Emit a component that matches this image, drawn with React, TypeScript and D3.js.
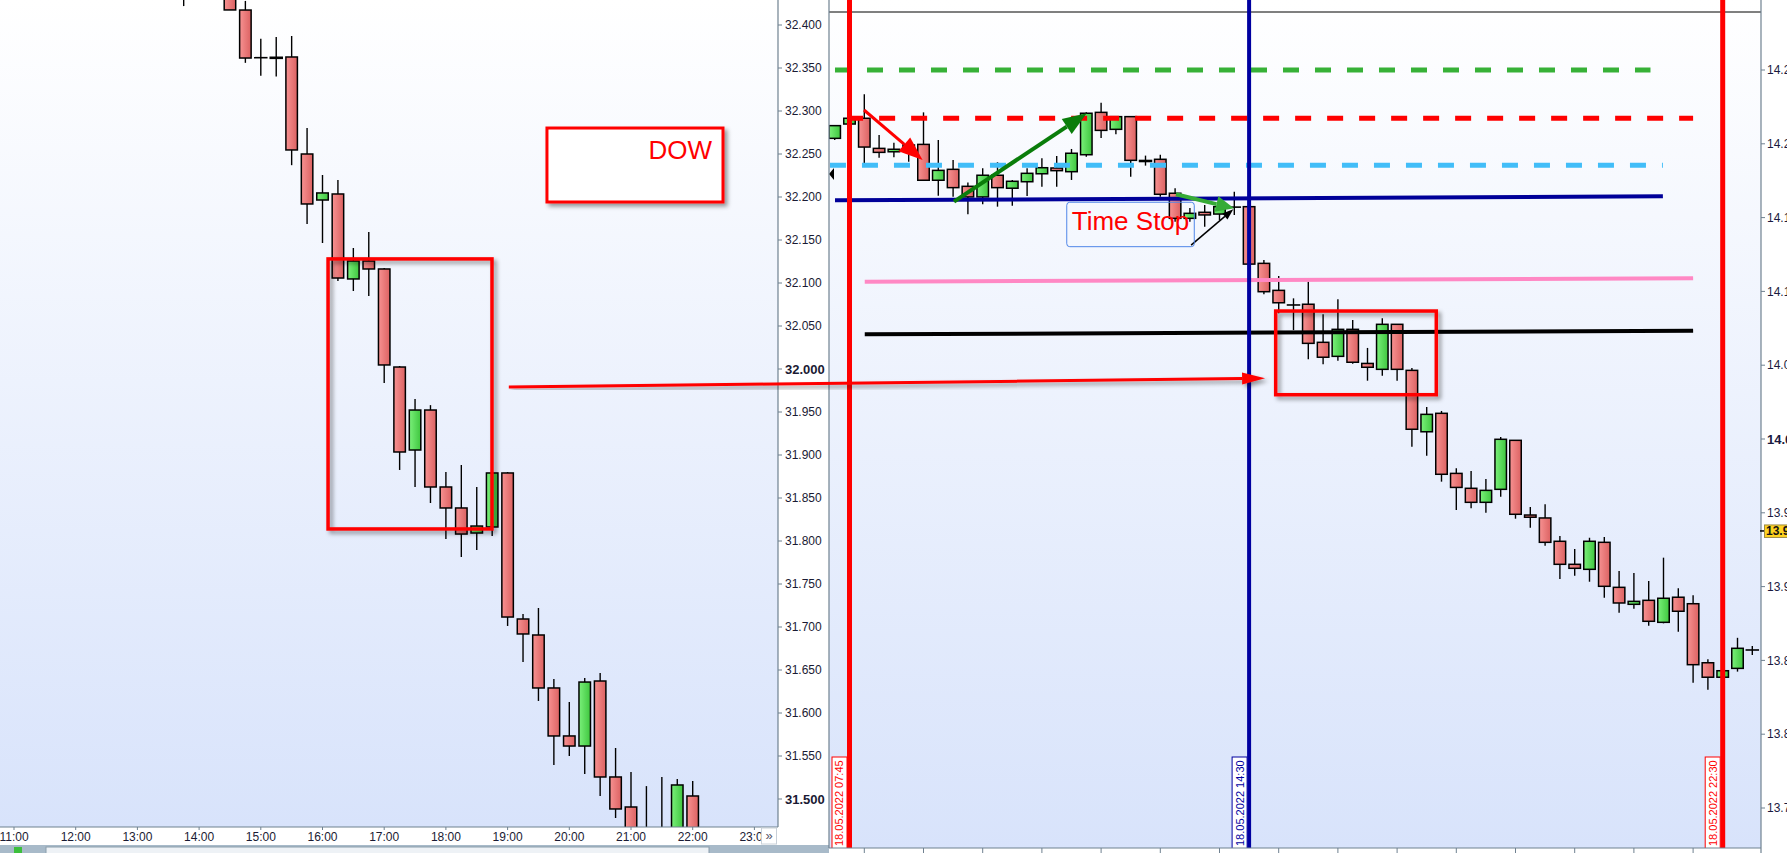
import * as d3 from "d3";

const W = 1787;
const H = 853;

// DOW 15-min candles: [hour, open, high, low, close]
const dowCandles: number[][] = [
  [13.75, 32.46, 32.47, 32.422, 32.45],
  [14.0, 32.48, 32.5, 32.44, 32.47],
  [14.25, 32.47, 32.49, 32.435, 32.45],
  [14.5, 32.45, 32.46, 32.4175, 32.4175],
  [14.75, 32.4174, 32.428, 32.356, 32.3616],
  [15.0, 32.362, 32.384, 32.341, 32.362],
  [15.25, 32.3625, 32.386, 32.34, 32.3612],
  [15.5, 32.3628, 32.3872, 32.237, 32.2547],
  [15.75, 32.25, 32.2802, 32.1686, 32.1919],
  [16.0, 32.1965, 32.2256, 32.1465, 32.2047],
  [16.25, 32.2035, 32.2198, 32.1023, 32.1058],
  [16.5, 32.1047, 32.1407, 32.0907, 32.1256],
  [16.75, 32.1256, 32.1593, 32.0849, 32.1163],
  [17.0, 32.1163, 32.1174, 31.9837, 32.0047],
  [17.25, 32.0023, 32.0035, 31.8826, 31.9035],
  [17.5, 31.9058, 31.9651, 31.8628, 31.9523],
  [17.75, 31.9523, 31.958, 31.8442, 31.8628],
  [18.0, 31.8628, 31.8802, 31.8023, 31.8384],
  [18.25, 31.8384, 31.8884, 31.7814, 31.8081],
  [18.5, 31.8093, 31.8628, 31.7895, 31.8174],
  [18.75, 31.8163, 31.88, 31.8058, 31.8791],
  [19.0, 31.8791, 31.8802, 31.7012, 31.7116],
  [19.25, 31.7093, 31.7151, 31.6593, 31.6919],
  [19.5, 31.6907, 31.7221, 31.614, 31.6291],
  [19.75, 31.6291, 31.6395, 31.5395, 31.5733],
  [20.0, 31.5733, 31.6128, 31.55, 31.5616],
  [20.25, 31.5616, 31.6407, 31.529, 31.636],
  [20.5, 31.6372, 31.6465, 31.5035, 31.5256],
  [20.75, 31.5256, 31.5593, 31.4779, 31.4884],
  [21.0, 31.4907, 31.5314, 31.42, 31.44],
  [21.25, 31.44, 31.515, 31.41, 31.43],
  [21.5, 31.43, 31.5256, 31.41, 31.44],
  [21.75, 31.44, 31.5233, 31.43, 31.5163],
  [22.0, 31.5035, 31.521, 31.44, 31.45],
];
const dowTicks = [32.4, 32.35, 32.3, 32.25, 32.2, 32.15, 32.1, 32.05, 32.0, 31.95, 31.9, 31.85, 31.8, 31.75, 31.7, 31.65, 31.6, 31.55, 31.5];
const dowBold = [32.0, 31.5];
const dowHours = [11, 12, 13, 14, 15, 16, 17, 18, 19, 20, 21, 22, 23];

// DAX 15-min candles: [hour, open, high, low, close]
const daxCandles: number[][] = [
  [7.5, 14.2037, 14.2126, 14.2025, 14.2123],
  [7.75, 14.2134, 14.218, 14.213, 14.2173],
  [8.0, 14.2173, 14.2335, 14.187, 14.1978],
  [8.25, 14.1969, 14.206, 14.1906, 14.1942],
  [8.5, 14.1946, 14.2007, 14.1909, 14.1963],
  [8.75, 14.1963, 14.2026, 14.1879, 14.1992],
  [9.0, 14.1996, 14.2213, 14.175, 14.1753],
  [9.25, 14.1753, 14.2026, 14.1648, 14.182],
  [9.5, 14.1827, 14.189, 14.1642, 14.1703],
  [9.75, 14.1712, 14.1737, 14.1522, 14.164],
  [10.0, 14.164, 14.1834, 14.159, 14.1787],
  [10.25, 14.1787, 14.1875, 14.1574, 14.1703],
  [10.5, 14.1699, 14.1755, 14.158, 14.1746],
  [10.75, 14.1743, 14.1834, 14.1646, 14.18],
  [11.0, 14.1797, 14.1902, 14.1709, 14.1838],
  [11.25, 14.1836, 14.1917, 14.1709, 14.1818],
  [11.5, 14.1811, 14.1965, 14.1755, 14.1936],
  [11.75, 14.1926, 14.2213, 14.1913, 14.2207],
  [12.0, 14.2213, 14.2278, 14.2039, 14.2091],
  [12.25, 14.2098, 14.2188, 14.2064, 14.2184],
  [12.5, 14.2184, 14.2188, 14.1777, 14.1888],
  [12.75, 14.1886, 14.192, 14.1852, 14.1881],
  [13.0, 14.1895, 14.1926, 14.1642, 14.1658],
  [13.25, 14.1665, 14.1699, 14.1472, 14.1495],
  [13.5, 14.1495, 14.1565, 14.1472, 14.1529],
  [13.75, 14.1536, 14.1585, 14.1438, 14.1518],
  [14.0, 14.1524, 14.1619, 14.1484, 14.1574],
  [14.25, 14.157, 14.1675, 14.1518, 14.1572],
  [14.5, 14.1574, 14.1578, 14.118, 14.1185],
  [14.75, 14.119, 14.1213, 14.098, 14.0998],
  [15.0, 14.1007, 14.1104, 14.0852, 14.0923],
  [15.25, 14.0908, 14.0953, 14.0738, 14.0908],
  [15.5, 14.0913, 14.1066, 14.054, 14.0648],
  [15.75, 14.0655, 14.0845, 14.0506, 14.0554],
  [16.0, 14.056, 14.0947, 14.053, 14.0743],
  [16.25, 14.0743, 14.0806, 14.051, 14.052],
  [16.5, 14.0512, 14.0617, 14.0395, 14.0486],
  [16.75, 14.0472, 14.0818, 14.0429, 14.0777],
  [17.0, 14.0777, 14.0777, 14.0395, 14.0472],
  [17.25, 14.0465, 14.0481, 13.9948, 14.0066],
  [17.5, 14.0049, 14.0217, 13.9887, 14.0167],
  [17.75, 14.0174, 14.019, 13.9711, 13.9761],
  [18.0, 13.9767, 13.9801, 13.9519, 13.9672],
  [18.25, 13.9666, 13.9783, 13.953, 13.9571],
  [18.5, 13.9571, 13.9729, 13.9501, 13.9652],
  [18.75, 13.9659, 14.0014, 13.9609, 13.9998],
  [19.0, 13.9991, 13.9991, 13.946, 13.949],
  [19.25, 13.9485, 13.9539, 13.9399, 13.947],
  [19.5, 13.9465, 13.9558, 13.9277, 13.93],
  [19.75, 13.9307, 13.9343, 13.9051, 13.9151],
  [20.0, 13.9151, 13.9255, 13.9074, 13.9124],
  [20.25, 13.9117, 13.9331, 13.9033, 13.9307],
  [20.5, 13.93, 13.9336, 13.8925, 13.9002],
  [20.75, 13.8995, 13.9106, 13.8823, 13.8889],
  [21.0, 13.888, 13.9092, 13.885, 13.89],
  [21.25, 13.8907, 13.9038, 13.8735, 13.8765],
  [21.5, 13.8758, 13.9196, 13.8751, 13.8921],
  [21.75, 13.8928, 13.8988, 13.8694, 13.8833],
  [22.0, 13.8884, 13.8941, 13.8349, 13.8471],
  [22.25, 13.8484, 13.8508, 13.8301, 13.8386],
  [22.5, 13.8386, 13.8437, 13.838, 13.843],
  [22.75, 13.8446, 13.8653, 13.8424, 13.8582],
  [23.0, 13.857, 13.8597, 13.8537, 13.8571],
];
const daxTicks = [14.25, 14.2, 14.15, 14.1, 14.05, 14.0, 13.95, 13.9, 13.85, 13.8, 13.75];
const daxBold = [14.0];
const daxHours = [8, 9, 10, 11, 12, 13, 14, 15, 16, 17, 18, 19, 20, 21, 22];
const daxLast = 13.9377;

// horizontal levels on the DAX panel: [t1, p1, t2, p2, colour, width, dashed]
const daxLevels: [number, number, number, number, string, number, boolean][] = [
  [7.505, 14.25, 21.28, 14.25, "#37b137", 5, true],
  [7.71, 14.2173, 22.0, 14.2173, "#ff0000", 5, true],
  [7.42, 14.1854, 21.49, 14.1854, "#41bdf8", 5, true],
  [7.505, 14.1617, 21.49, 14.1644, "#000099", 4, false],
  [8.008, 14.1066, 22.0, 14.1089, "#ff88c4", 4, false],
  [8.008, 14.0709, 22.0, 14.0734, "#000000", 4, false],
];

// time markers: [hour, label, colour]
const daxMarkers: [number, string, string][] = [
  [7.75, "18.05.2022 07:45", "#ff0000"],
  [14.5, "18.05.2022 14:30", "#0000a0"],
  [22.5, "18.05.2022 22:30", "#ff0000"],
];

// arrows on the DAX panel: [t1, p1, t2, p2, colour, width, headLen, headHalf]
const daxArrows: [number, number, number, number, string, number, number, number][] = [
  [7.995, 14.2229, 8.985, 14.189, "#ff0000", 3, 24, 9],
  [9.515, 14.1608, 11.757, 14.2207, "#0a7d0a", 4, 24, 9],
  [13.265, 14.1658, 14.245, 14.1563, "#36ab36", 4, 18, 8],
  [13.52, 14.1314, 14.233, 14.1556, "#000000", 1.5, 11, 4],
];

const lx = d3.scaleLinear().domain([11, 23]).range([14, 754.4]);
const ly = d3.scaleLinear().domain([31.5, 32.4]).range([799, 25]);
const rx = d3.scaleLinear().domain([7.75, 22.5]).range([849.5, 1722.7]);
const ry = d3.scaleLinear().domain([13.75, 14.25]).range([808, 70]);

const fmt = d3.format(".3f");
const FONT = "'Liberation Sans', Arial, sans-serif";

function head(x1: number, y1: number, x2: number, y2: number, len: number, half: number) {
  const a = Math.atan2(y2 - y1, x2 - x1);
  const bx = x2 - len * Math.cos(a);
  const by = y2 - len * Math.sin(a);
  const px = -Math.sin(a) * half;
  const py = Math.cos(a) * half;
  return { bx, by, pts: `${x2},${y2} ${bx + px},${by + py} ${bx - px},${by - py}` };
}

function Arrow({ x1, y1, x2, y2, color, width, len, half, filter }: any) {
  const h = head(x1, y1, x2, y2, len, half);
  return (
    <g filter={filter}>
      <line x1={x1} y1={y1} x2={h.bx} y2={h.by} stroke={color} strokeWidth={width} />
      <polygon points={h.pts} fill={color} />
    </g>
  );
}

function Candles({ data, x, y, bw }: any) {
  return (
    <g>
      {data.map((d: number[], i: number) => {
        const [t, o, hi, lo, c] = d;
        const cx = x(t);
        const yo = y(o);
        const yc = y(c);
        const top = Math.min(yo, yc);
        const h = Math.abs(yo - yc);
        const up = c >= o;
        return (
          <g key={i}>
            <line x1={cx} x2={cx} y1={y(hi)} y2={y(lo)} stroke="#000" strokeWidth={1.4} />
            {h < 1.5 ? (
              <line x1={cx - bw / 2 - 1} x2={cx + bw / 2 + 1} y1={top + h / 2} y2={top + h / 2} stroke="#000" strokeWidth={h < 0.6 ? 1.6 : 2.6} />
            ) : (
              <rect x={cx - bw / 2} y={top} width={bw} height={h} fill={up ? "url(#gGreen)" : "url(#gRed)"} stroke="#000" strokeWidth={1.5} />
            )}
          </g>
        );
      })}
    </g>
  );
}

export default function App() {
  const lBottom = 827;
  const lAxisX = 778;
  const rLeft = 829;
  const rRight = 1761;
  const rBottom = 848;

  // annotations, placed in data terms
  const dowBox = [16.09, 32.128, 18.747, 31.814];
  const dowTitleBox = [19.638, 32.2802, 22.491, 32.1942];
  const daxBox = [14.949, 14.0867, 17.662, 14.03];
  const timeStopBox = [11.42, 14.1604, 13.574, 14.1303];
  const bridge = { from: [19.02, 31.979], to: [14.77, 14.0411] };

  return (
    <div style={{ position: "fixed", left: 0, top: 0, width: W, height: H, overflow: "hidden", background: "#fff" }}>
      <svg width={W} height={H} style={{ display: "block", fontFamily: FONT }}>
        <defs>
          <linearGradient id="bg" x1="0" y1="0" x2="0" y2="1">
            <stop offset="0" stopColor="#ffffff" />
            <stop offset="1" stopColor="#d8e3fb" />
          </linearGradient>
          <linearGradient id="gRed" x1="0" y1="0" x2="1" y2="0">
            <stop offset="0" stopColor="#f79292" />
            <stop offset="1" stopColor="#dc6262" />
          </linearGradient>
          <linearGradient id="gGreen" x1="0" y1="0" x2="1" y2="0">
            <stop offset="0" stopColor="#7af07a" />
            <stop offset="1" stopColor="#3fc63f" />
          </linearGradient>
          <filter id="shadow" x="-20%" y="-20%" width="140%" height="140%">
            <feDropShadow dx="3" dy="3" stdDeviation="2" floodColor="#000" floodOpacity="0.4" />
          </filter>
          <clipPath id="clipL">
            <rect x={0} y={0} width={lAxisX} height={lBottom} />
          </clipPath>
          <clipPath id="clipTime">
            <rect x={0} y={lBottom} width={761} height={18} />
          </clipPath>
          <clipPath id="clipR">
            <rect x={rLeft} y={0} width={rRight - rLeft} height={rBottom} />
          </clipPath>
        </defs>

        {/* left panel: DOW */}
        <rect x={0} y={0} width={lAxisX} height={lBottom} fill="url(#bg)" />
        <g clipPath="url(#clipL)">
          <Candles data={dowCandles} x={lx} y={ly} bw={11.5} />
        </g>
        <line x1={lAxisX} x2={lAxisX} y1={0} y2={lBottom} stroke="#6f8190" strokeWidth={1.2} />
        <line x1={0} x2={lAxisX} y1={lBottom} y2={lBottom} stroke="#6f8190" strokeWidth={1.2} />
        {dowTicks.map((v) => (
          <g key={v}>
            <line x1={lAxisX} x2={lAxisX + 4} y1={ly(v)} y2={ly(v)} stroke="#6f8190" />
            <text x={lAxisX + 7} y={ly(v)} dy="0.35em" fontSize={dowBold.includes(v) ? 13 : 12} fontWeight={dowBold.includes(v) ? "bold" : "normal"} fill="#1a1a33">
              {fmt(v)}
            </text>
          </g>
        ))}
        <g clipPath="url(#clipTime)">
          {dowHours.map((h) => (
            <g key={h}>
              <line x1={lx(h)} x2={lx(h)} y1={lBottom} y2={lBottom + 3} stroke="#6f8190" />
              <text x={lx(h)} y={lBottom + 14} textAnchor="middle" fontSize={12} fill="#1a1a33">
                {`${h}:00`}
              </text>
            </g>
          ))}
        </g>
        <rect x={761.5} y={828} width={15} height={16} fill="#fff" stroke="#c8d0d8" />
        <text x={769} y={840} textAnchor="middle" fontSize={13} fill="#556">»</text>
        <rect x={0} y={845} width={rLeft} height={8} fill="#a8bac9" />
        <rect x={46} y={847} width={663} height={7} fill="#eef2f6" stroke="#8a9dac" />
        <rect x={14} y={847} width={8} height={6} fill="#3cbf3c" />

        {/* DOW annotations */}
        <rect
          x={lx(dowTitleBox[0])}
          y={ly(dowTitleBox[1])}
          width={lx(dowTitleBox[2]) - lx(dowTitleBox[0])}
          height={ly(dowTitleBox[3]) - ly(dowTitleBox[1])}
          fill="#fff"
          stroke="#ff0000"
          strokeWidth={3}
          filter="url(#shadow)"
        />
        <text x={lx(dowTitleBox[2]) - 11} y={ly(dowTitleBox[1]) + 31} textAnchor="end" fontSize={26} fill="#ff0000">
          DOW
        </text>
        <rect
          x={lx(dowBox[0])}
          y={ly(dowBox[1])}
          width={lx(dowBox[2]) - lx(dowBox[0])}
          height={ly(dowBox[3]) - ly(dowBox[1])}
          fill="none"
          stroke="#ff0000"
          strokeWidth={3.5}
          filter="url(#shadow)"
        />

        {/* right panel: DAX */}
        <rect x={rLeft} y={0} width={rRight - rLeft} height={rBottom} fill="url(#bg)" />
        <line x1={rLeft} x2={rRight} y1={12} y2={12} stroke="#000" strokeWidth={1} />
        <g clipPath="url(#clipR)">
          <Candles data={daxCandles} x={rx} y={ry} bw={11.5} />
          {daxLevels.map((l, i) => (
            <line
              key={i}
              x1={rx(l[0])}
              y1={ry(l[1])}
              x2={rx(l[2])}
              y2={ry(l[3])}
              stroke={l[4]}
              strokeWidth={l[5]}
              strokeDasharray={l[6] ? "16 16" : undefined}
            />
          ))}
          <polygon
            points={`${rLeft},${ry(14.1795)} ${rLeft + 5},${ry(14.1795) - 6} ${rLeft + 5},${ry(14.1795) + 6}`}
            fill="#000"
          />
          {daxArrows.map((a, i) => (
            <Arrow key={i} x1={rx(a[0])} y1={ry(a[1])} x2={rx(a[2])} y2={ry(a[3])} color={a[4]} width={a[5]} len={a[6]} half={a[7]} />
          ))}
          <rect
            x={rx(timeStopBox[0])}
            y={ry(timeStopBox[1])}
            width={rx(timeStopBox[2]) - rx(timeStopBox[0])}
            height={ry(timeStopBox[3]) - ry(timeStopBox[1])}
            rx={3}
            fill="none"
            stroke="#4f86e8"
            strokeWidth={1}
          />
          <text x={rx(timeStopBox[0]) + 5} y={ry(timeStopBox[1]) + 28} fontSize={26} fill="#ff0000">
            Time Stop
          </text>
          <rect
            x={rx(daxBox[0])}
            y={ry(daxBox[1])}
            width={rx(daxBox[2]) - rx(daxBox[0])}
            height={ry(daxBox[3]) - ry(daxBox[1])}
            fill="none"
            stroke="#ff0000"
            strokeWidth={3.5}
            filter="url(#shadow)"
          />
          {daxMarkers.map(([t, label, color]) => {
            const w = color === "#0000a0" ? 4 : 5;
            const x = rx(t);
            return (
              <g key={label}>
                <line x1={x} x2={x} y1={0} y2={rBottom} stroke={color} strokeWidth={w} />
                <rect x={x - w / 2 - 15} y={757} width={15} height={rBottom - 757 + 2} fill="#fff" stroke={color} strokeWidth={1} />
                <text
                  transform={`translate(${x - w / 2 - 7.5},${rBottom - 2}) rotate(-90)`}
                  dy="0.36em"
                  fontSize={11}
                  fill={color}
                >
                  {label}
                </text>
              </g>
            );
          })}
        </g>
        <line x1={rLeft} x2={rLeft} y1={0} y2={rBottom} stroke="#6f8190" strokeWidth={1.2} />
        <line x1={rLeft} x2={rRight} y1={rBottom} y2={rBottom} stroke="#6f8190" strokeWidth={1.2} />
        <line x1={rRight} x2={rRight} y1={0} y2={H} stroke="#6f8190" strokeWidth={1.2} />
        {daxHours.map((h) => (
          <line key={h} x1={rx(h)} x2={rx(h)} y1={rBottom} y2={H} stroke="#6f8190" />
        ))}
        {daxTicks.map((v) => (
          <g key={v}>
            <line x1={rRight} x2={rRight + 4} y1={ry(v)} y2={ry(v)} stroke="#6f8190" />
            <text x={rRight + 6} y={ry(v)} dy="0.35em" fontSize={daxBold.includes(v) ? 13 : 12} fontWeight={daxBold.includes(v) ? "bold" : "normal"} fill="#1a1a40">
              {fmt(v)}
            </text>
          </g>
        ))}
        <line x1={rRight - 1} x2={rRight + 4} y1={ry(daxLast)} y2={ry(daxLast)} stroke="#000" strokeWidth={1.5} />
        <rect x={rRight + 3.5} y={ry(daxLast) - 6} width={30} height={12.5} fill="#ffd31f" stroke="#9c8a45" />
        <text x={rRight + 5} y={ry(daxLast)} dy="0.36em" fontSize={12} fontWeight="bold" fill="#111">
          {fmt(daxLast)}
        </text>

        {/* bridge arrow from the DOW box to the DAX box */}
        <Arrow
          x1={lx(bridge.from[0])}
          y1={ly(bridge.from[1])}
          x2={rx(bridge.to[0])}
          y2={ry(bridge.to[1])}
          color="#ff0000"
          width={3}
          len={23}
          half={6}
          filter="url(#shadow)"
        />
      </svg>
    </div>
  );
}
